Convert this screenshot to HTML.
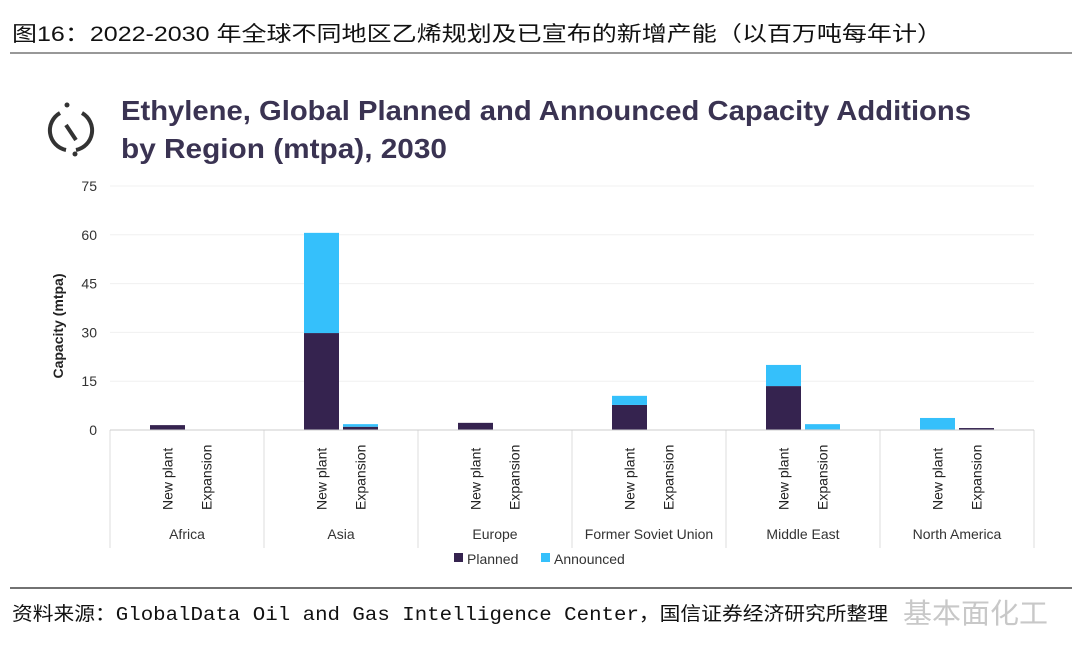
<!DOCTYPE html>
<html><head><meta charset="utf-8"><style>
body{margin:0;background:#fff;}
svg{display:block;}
</style></head><body>
<svg id="chart" width="1080" height="647" viewBox="0 0 1080 647" xmlns="http://www.w3.org/2000/svg" font-family="'Liberation Sans','Noto Sans CJK SC',sans-serif">
<text x="12" y="41" font-size="21" fill="#111" textLength="930" lengthAdjust="spacingAndGlyphs">图16：2022-2030 年全球不同地区乙烯规划及已宣布的新增产能（以百万吨每年计）</text>
<line x1="10" y1="53" x2="1072" y2="53" stroke="#777" stroke-width="1.5"/>
<g fill="none" stroke="#333" stroke-width="4">
<path d="M60 113 A20 20 0 0 0 66 150"/><path d="M82 113 A20 20 0 0 1 76 150"/>
<line x1="66" y1="125" x2="76" y2="140"/>
</g>
<circle cx="67" cy="105" r="2.5" fill="#333"/><circle cx="75" cy="154" r="2.5" fill="#333"/>
<text font-weight="bold" font-size="28" fill="#3a3352">
<tspan x="121" y="120" textLength="850" lengthAdjust="spacingAndGlyphs">Ethylene, Global Planned and Announced Capacity Additions</tspan>
<tspan x="121" y="158" textLength="326" lengthAdjust="spacingAndGlyphs">by Region (mtpa), 2030</tspan></text>
<g id="grid"></g><g id="bars"></g><g id="xaxis"></g>
<text transform="translate(63,326) rotate(-90)" text-anchor="middle" font-size="14" font-weight="bold" fill="#222">Capacity (mtpa)</text>
<g font-size="14" fill="#333">
<rect x="454" y="553" width="9" height="9" fill="#35234f"/>
<text x="467" y="564">Planned</text>
<rect x="541" y="553" width="9" height="9" fill="#35c0fb"/>
<text x="554" y="564">Announced</text>
</g>
<line x1="10" y1="588" x2="1072" y2="588" stroke="#444" stroke-width="1.5"/>
<text x="12" y="620" font-size="19" fill="#111" font-family="'Liberation Mono','Noto Sans CJK SC',monospace" textLength="876" lengthAdjust="spacingAndGlyphs">资料来源：GlobalData Oil and Gas Intelligence Center，国信证券经济研究所整理</text>
<text x="903" y="623" font-size="28" fill="#c8c8c8" textLength="145" lengthAdjust="spacingAndGlyphs">基本面化工</text>
</svg>
<script>
const regions=["Africa","Asia","Europe","Former Soviet Union","Middle East","North America"];
const types=["New plant","Expansion"];
const planned=[[1.5,0],[29.8,1.0],[2.2,0],[7.7,0],[13.5,0.2],[0,0.6]];
const announced=[[0,0],[30.8,0.8],[0,0],[2.8,0],[6.5,1.6],[3.7,0]];
const yTicks=[0,15,30,45,60,75];
const NS="http://www.w3.org/2000/svg";
const x0=110,x1=1034,yBase=430,yTop=186,yMax=75;
const gw=(x1-x0)/regions.length;
const y=v=>yBase-v/yMax*(yBase-yTop);
const xBar=(g,t)=>x0+g*gw+40+t*39;
const bw=35;
function mk(tag,attrs,parent,text){const e=document.createElementNS(NS,tag);for(const k in attrs)e.setAttribute(k,attrs[k]);if(text!==undefined)e.textContent=text;parent.appendChild(e);return e;}
const grid=document.getElementById('grid'),bars=document.getElementById('bars'),xa=document.getElementById('xaxis');
yTicks.forEach(t=>{
 if(t>0){const l=mk('line',{x1:x0,x2:x1,y1:y(t),y2:y(t),stroke:'#f0f0f0'},grid);
 
 }
 const tx=mk('text',{x:97,y:y(t)+5,'text-anchor':'end','font-size':14,fill:'#333'},grid,t);
 
 
});
regions.forEach((r,g)=>{
 types.forEach((tp,t)=>{
  const p=planned[g][t],a=announced[g][t],x=xBar(g,t);
  if(p>0){const b=mk('rect',{x:x,y:y(p),width:bw,height:y(0)-y(p),fill:'#35234f'},bars);
   
   }
  if(a>0){const b=mk('rect',{x:x,y:y(p+a),width:bw,height:y(p)-y(p+a),fill:'#35c0fb'},bars);
   
   }
  const lb=mk('text',{transform:`translate(${x+bw/2+5},510) rotate(-90)`,'font-size':14,fill:'#222'},xa,tp);
  
  
 });
 const rl=mk('text',{x:x0+g*gw+gw/2,y:539,'text-anchor':'middle','font-size':14,fill:'#333'},xa,r);
 
 
});
for(let g=0;g<=regions.length;g++){const l=mk('line',{x1:x0+g*gw,x2:x0+g*gw,y1:430,y2:548,stroke:'#ddd'},xa);
 
 }
const ax=mk('line',{x1:x0,x2:x1,y1:430,y2:430,stroke:'#ccc'},xa);


</script>
</body></html>
